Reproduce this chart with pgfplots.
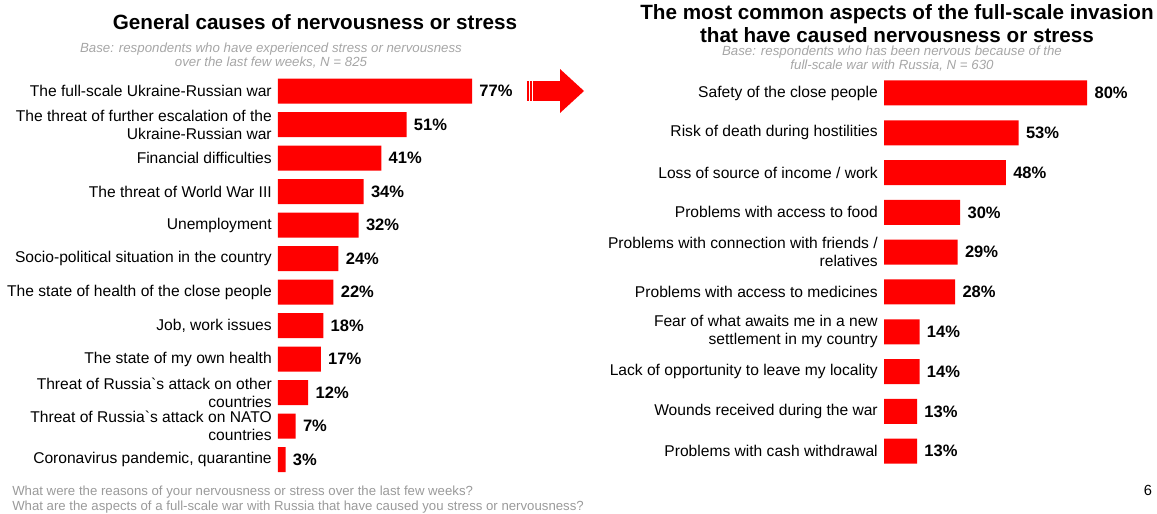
\documentclass[border=0pt]{standalone}
\usepackage{pgfplots}
\pgfplotsset{compat=1.18}
\usepackage{fontspec}
\setmainfont{Liberation Sans}
\definecolor{barred}{HTML}{FF0000}
\definecolor{basegray}{HTML}{A6A6A6}
\definecolor{footgray}{HTML}{9A9A9A}
\begin{document}
\begin{tikzpicture}
\useasboundingbox (0,0) rectangle (867.75pt,-385.5pt);
\pgfplotsset{
  mybars/.style={
    xbar, scale only axis, xmin=0, xmax=100,
    y dir=reverse,
    axis line style={draw=none},
    major tick length=0pt,
    xtick=\empty, ytick=data,
    tick style={draw=none},
    bar width=18.75pt,
    yticklabel style={inner sep=0pt, xshift=-4.5pt, align=right,
      font=\fontsize{11.7}{13.6}\selectfont},
    point meta=x,
    /pgf/number format/assume math mode=true,
    nodes near coords={\pgfmathprintnumber{\pgfplotspointmeta}\%},
    every node near coord/.append style={anchor=west, xshift=2pt,
      font=\fontsize{12.4}{13.6}\selectfont\bfseries},
  }
}
% Left chart
\begin{axis}[mybars,
  at={(208.5pt,-55.69pt)}, anchor=north west,
  x=1.89pt, y=25.125pt, ymin=-0.5, ymax=11.5,
  yticklabels={The full-scale Ukraine-Russian war,
    {The threat of further escalation of the\\Ukraine-Russian war},
    Financial difficulties,
    The threat of World War III,
    Unemployment,
    Socio-political situation in the country,
    The state of health of the close people,
    {Job, work issues},
    The state of my own health,
    {Threat of Russia\textasciigrave s attack on other\\countries},
    {Threat of Russia\textasciigrave s attack on NATO\\countries},
    {Coronavirus pandemic, quarantine}},
]
\addplot[fill=barred, draw=none] coordinates {
(77,0) (51,1) (41,2) (34,3) (32,4) (24,5) (22,6) (18,7) (17,8) (12,9) (7,10) (3,11)};
\end{axis}
% Right chart
\begin{axis}[mybars,
  at={(663pt,-54.8pt)}, anchor=north west,
  x=1.905pt, y=29.85pt, ymin=-0.5, ymax=9.5,
  yticklabels={Safety of the close people,
    Risk of death during hostilities,
    Loss of source of income / work,
    Problems with access to food,
    {Problems with connection with friends /\\relatives},
    Problems with access to medicines,
    {Fear of what awaits me in a new\\settlement in my country},
    Lack of opportunity to leave my locality,
    Wounds received during the war,
    Problems with cash withdrawal},
]
\addplot[fill=barred, draw=none] coordinates {
(80,0) (53,1) (48,2) (30,3) (29,4) (28,5) (14,6) (14,7) (13,8) (13,9)};
\end{axis}
\begin{scope}[x=0.75pt,y=-0.75pt]
% titles
\node[font=\fontsize{15.5}{17.25}\selectfont\bfseries] at (315,22) {General causes of nervousness or stress};
\node[font=\fontsize{9.95}{10.5}\selectfont\itshape, text=basegray, align=center] at (271,56)
  {Base: respondents who have experienced stress or nervousness\\over the last few weeks, N = 825};
\node[font=\fontsize{15.5}{17.25}\selectfont\bfseries, align=center] at (897,23.5)
  {The most common aspects of the full-scale invasion\\that have caused nervousness or stress};
\node[font=\fontsize{9.95}{10.5}\selectfont\itshape, text=basegray, align=center] at (892,59)
  {Base: respondents who has been nervous because of the\\full-scale war with Russia, N = 630};
% footnotes
\node[font=\fontsize{9.9}{11.25}\selectfont, text=footgray, align=left, anchor=west, inner sep=0pt] at (12,499.5)
  {What were the reasons of your nervousness or stress over the last few weeks?\\What are the aspects of a full-scale war with Russia that have caused you stress or nervousness?};
\node[font=\fontsize{11}{12}\selectfont] at (1148,490) {6};
% arrow
\fill[barred] (535,81) rectangle (561,101);
\fill[barred] (527,81) rectangle (528.5,101);
\fill[barred] (530,81) rectangle (531.5,101);
\fill[barred] (533,81) rectangle (534.5,101);
\fill[barred] (560,69) -- (584,91) -- (560,113) -- cycle;
\end{scope}
\end{tikzpicture}
\end{document}
